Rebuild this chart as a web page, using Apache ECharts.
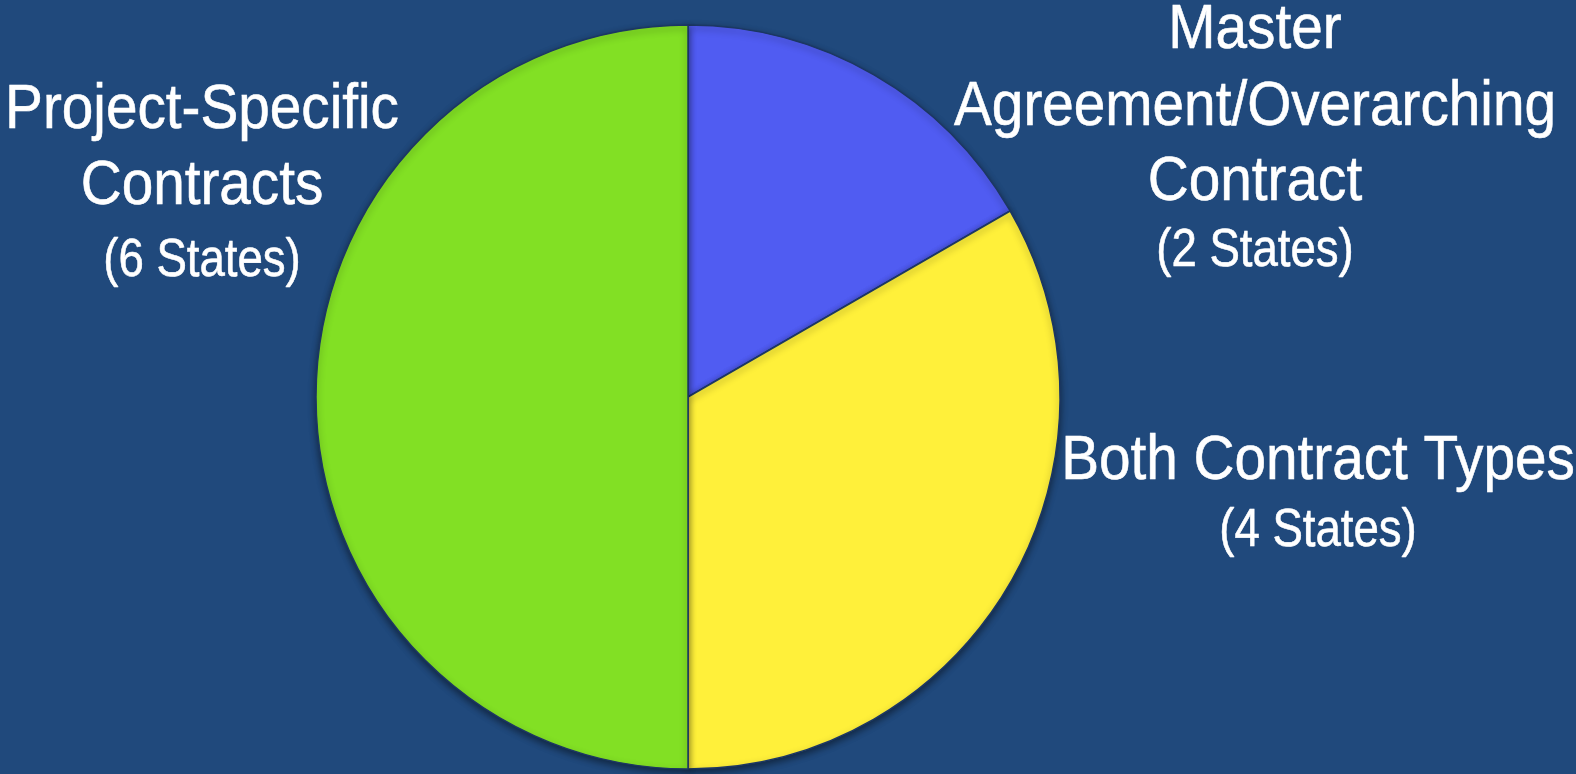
<!DOCTYPE html>
<html>
<head>
<meta charset="utf-8">
<script src="https://cdn.jsdelivr.net/npm/echarts@6/dist/echarts.min.js"></script>
<style>
  html, body { margin: 0; padding: 0; background: #20497c; }
  #chart { width: 1576px; height: 774px; }
</style>
</head>
<body>
<div id="chart"></div>
<script>
// Contract approaches used by states
const categories = ['Master\nAgreement/Overarching\nContract', 'Both Contract Types', 'Project-Specific\nContracts'];
const stateCounts = [2, 4, 6];
const sliceColors = ['#505cf2', '#fff03a', '#82e024'];

// Baselines of each label's lines: name lines, then the count line
const labelCenters = [1255, 1318, 202];
const labelBaselines = [[52, 129, 204, 270], [483, 550], [132, 208, 280]];

const FONT = '"Liberation Sans", Arial, sans-serif';
const NAME_STYLE = { size: 63, squeeze: 0.9 };
const COUNT_STYLE = { size: 53, squeeze: 0.86 };

// Text blocks for the slice labels, built from the data arrays
const labelGraphics = [];
categories.forEach((name, i) => {
  const lines = name.split('\n').map(t => ({ text: t, st: NAME_STYLE }));
  lines.push({ text: '(' + stateCounts[i] + ' States)', st: COUNT_STYLE });
  lines.forEach((ln, j) => {
    labelGraphics.push({
      type: 'text',
      x: labelCenters[i],
      y: labelBaselines[i][j] - ln.st.size * 0.3465,
      scaleX: ln.st.squeeze,
      silent: true,
      style: {
        text: ln.text,
        fill: '#ffffff',
        stroke: '#ffffff',
        lineWidth: 0.6,
        font: ln.st.size + 'px ' + FONT,
        textAlign: 'center',
        textVerticalAlign: 'middle'
      }
    });
  });
});

const chart = echarts.init(document.getElementById('chart'));
chart.setOption({
  backgroundColor: '#20497c',
  animation: false,
  series: [{
    type: 'pie',
    center: [688, 397],
    radius: 372,
    startAngle: 90,
    clockwise: true,
    silent: true,
    data: categories.map((name, i) => ({
      name: name,
      value: stateCounts[i],
      itemStyle: { color: sliceColors[i] }
    })),
    itemStyle: {
      borderColor: '#1c3763',
      borderWidth: 1.5,
      shadowBlur: 7,
      shadowColor: 'rgba(0,0,0,0.45)',
      shadowOffsetY: 3
    },
    label: { show: false },
    labelLine: { show: false }
  }],
  graphic: labelGraphics
});
</script>
</body>
</html>
